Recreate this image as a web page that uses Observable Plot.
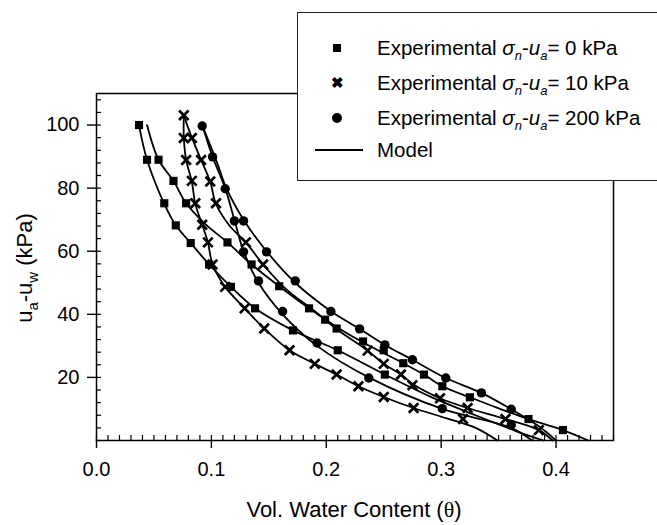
<!DOCTYPE html>
<html>
<head>
<meta charset="utf-8">
<script src="https://cdn.jsdelivr.net/npm/d3@7"></script>
<script src="https://cdn.jsdelivr.net/npm/@observablehq/plot@0.6"></script>
<style>
  html, body { margin: 0; padding: 0; background: white; }
  #wrap { position: relative; width: 657px; height: 525px; overflow: hidden; font-family: "Liberation Sans", Arial, sans-serif; }
  #legend { position: absolute; left: 297px; top: 12px; width: 420px; height: 169px; background: white; border: 1.2px solid #222; box-sizing: border-box; }
  .item { position: absolute; left: 0; height: 26px; font-size: 20.5px; line-height: 26px; white-space: nowrap; }
  .item span.t { position: absolute; left: 79px; top: 0; }
  .mk { position: absolute; }
  sub { font-size: 13px; vertical-align: -5px; line-height: 0; }
</style>
</head>
<body>
<div id="wrap"></div>
<script>
// ---- data ----
const sigma0Points = [[0.037,100],[0.044,89],[0.054,89],[0.067,82.3],[0.059,75.2],[0.078,75.2],[0.069,68.2],[0.082,62.6],[0.114,62.8],[0.098,55.8],[0.135,55.8],[0.117,48.7],[0.159,48.9],[0.138,41.9],[0.185,41.9],[0.199,38.3],[0.171,34.9],[0.209,35.5],[0.232,31.4],[0.210,28.6],[0.250,28.6],[0.267,24.5],[0.251,20.9],[0.285,20.9],[0.301,17.2],[0.325,13.7],[0.376,6.8],[0.406,3.3]];
const sigma10Points = [[0.076,103.1],[0.076,95.9],[0.083,95.9],[0.078,88.9],[0.091,88.9],[0.083,82.3],[0.099,82.1],[0.086,75.2],[0.104,75.2],[0.092,68.4],[0.097,62.8],[0.130,62.8],[0.101,55.8],[0.145,55.8],[0.112,48.7],[0.129,41.9],[0.146,35.5],[0.168,28.6],[0.236,28.5],[0.190,24.3],[0.250,24.3],[0.209,20.9],[0.265,20.9],[0.228,17.2],[0.275,17.5],[0.250,13.8],[0.299,13.4],[0.276,10.3],[0.323,10.3],[0.319,6.8],[0.356,6.8],[0.385,3.3]];
const sigma200Points = [[0.092,99.7],[0.101,89.9],[0.112,79.8],[0.120,69.6],[0.128,69.6],[0.128,59.8],[0.148,59.8],[0.141,50.6],[0.173,50.6],[0.162,40.9],[0.204,40.9],[0.229,35.4],[0.192,30.9],[0.251,30.3],[0.275,25.6],[0.237,19.8],[0.304,19.8],[0.335,15.1],[0.301,10.1],[0.361,9.9],[0.361,4.9]];

const modelSigma0A = [[0.037,100],[0.044,89],[0.059,75],[0.069,68.2],[0.082,62.6],[0.098,55.8],[0.117,48.7],[0.138,41.9],[0.171,34.9],[0.210,28.6],[0.251,20.9],[0.290,14],[0.330,8],[0.365,3],[0.389,0]];
const modelSigma0B = [[0.044,100],[0.054,89],[0.067,82.3],[0.078,75.2],[0.095,68.5],[0.114,62.8],[0.135,55.8],[0.159,48.9],[0.185,41.9],[0.209,36],[0.235,30.5],[0.267,24.5],[0.285,20.9],[0.301,17.2],[0.325,13.7],[0.350,10.2],[0.376,6.8],[0.406,3.3],[0.428,0]];
const modelSigma10A = [[0.076,103],[0.076,96],[0.078,89],[0.083,82],[0.086,75],[0.092,68.4],[0.097,62.8],[0.101,55.8],[0.112,48.7],[0.129,41.9],[0.146,35.5],[0.168,28.6],[0.190,24.3],[0.209,20.9],[0.228,17.2],[0.250,13.8],[0.276,10.3],[0.305,7],[0.330,4],[0.349,0]];
const modelSigma10B = [[0.076,103],[0.083,96],[0.091,89],[0.099,82],[0.104,75],[0.116,68],[0.130,62.8],[0.145,55.8],[0.165,48],[0.190,41],[0.210,35],[0.236,28.5],[0.250,24.3],[0.265,20.9],[0.277,17.5],[0.299,13.4],[0.323,10.3],[0.356,6.8],[0.385,3.3],[0.397,0]];
const modelSigma200A = [[0.092,100],[0.101,90],[0.112,80],[0.120,70],[0.128,60],[0.141,50],[0.162,40],[0.192,30],[0.237,20],[0.301,10],[0.361,4],[0.379,0]];
const modelSigma200B = [[0.092,100],[0.105,88],[0.113,80],[0.128,70],[0.148,60],[0.173,50],[0.204,41],[0.229,35.4],[0.251,30.3],[0.275,25.6],[0.304,19.8],[0.335,15.1],[0.361,9.9],[0.385,4.5],[0.400,0]];

const xMajorTicks = [0, 0.1, 0.2, 0.3, 0.4];
const xMinorTicks = d3.range(0, 46).map(i => i / 100);
const yMajorTicks = [20, 40, 60, 80, 100];
const yMinorTicks = d3.range(0, 28).map(i => i * 4);

const legendLabels = ["0 kPa", "10 kPa", "200 kPa"];

// ---- build tables ----
const toRows = (arr, key) => arr.map(([x, y]) => ({x, y, key}));
const curves = [
  ...toRows(modelSigma0A, "0A"), ...toRows(modelSigma0B, "0B"),
  ...toRows(modelSigma10A, "10A"), ...toRows(modelSigma10B, "10B"),
  ...toRows(modelSigma200A, "200A"), ...toRows(modelSigma200B, "200B")
];

const plot = Plot.plot({
  width: 657, height: 525,
  marginLeft: 96, marginRight: 44, marginTop: 93, marginBottom: 85,
  x: {domain: [0, 0.45]},
  y: {domain: [0, 110]},
  style: {fontFamily: "'Liberation Sans', Arial, sans-serif", fontSize: "20px", color: "black", background: "white", overflow: "visible"},
  marks: [
    Plot.axisX(xMinorTicks, {tickSize: -5, tickFormat: () => "", strokeWidth: 1.2, label: null}),
    Plot.axisX(xMajorTicks, {tickSize: 8, tickPadding: 13, tickFormat: d3.format(".1f"), strokeWidth: 1.4, label: null}),
    Plot.axisY(yMinorTicks, {tickSize: -5, tickFormat: () => "", strokeWidth: 1.2, label: null}),
    Plot.axisY(yMajorTicks, {tickSize: 9, tickPadding: 8, strokeWidth: 1.4, label: null}),
    Plot.frame({stroke: "black", strokeWidth: 1.5}),
    Plot.line(curves, {x: "x", y: "y", z: "key", stroke: "black", strokeWidth: 1.8, curve: "catmull-rom"}),
    Plot.dot(toRows(sigma0Points, "s0"), {x: "x", y: "y", symbol: "square", fill: "black", r: 4.6}),
    Plot.dot(toRows(sigma10Points, "s10"), {x: "x", y: "y", symbol: "times", stroke: "black", strokeWidth: 2.7, r: 4.4}),
    Plot.dot(toRows(sigma200Points, "s200"), {x: "x", y: "y", symbol: "circle", fill: "black", r: 4.7})
  ]
});

const wrap = document.getElementById("wrap");
wrap.appendChild(plot);

// axis titles
const svg = d3.select(plot);
const yt = svg.append("text")
  .attr("transform", "translate(32,268) rotate(-90)")
  .attr("text-anchor", "middle")
  .attr("font-size", 22)
  .attr("font-family", "'Liberation Sans', Arial, sans-serif")
  .attr("fill", "black");
yt.append("tspan").text("u");
yt.append("tspan").attr("font-size", 15).attr("dy", 6).text("a");
yt.append("tspan").attr("dy", -6).text("-u");
yt.append("tspan").attr("font-size", 15).attr("dy", 6).text("w");
yt.append("tspan").attr("dy", -6).text(" (kPa)");

const xt = svg.append("text")
  .attr("x", 354).attr("y", 517)
  .attr("text-anchor", "middle")
  .attr("font-size", 22)
  .attr("font-family", "'Liberation Sans', Arial, sans-serif")
  .attr("fill", "black");
xt.append("tspan").text("Vol. Water Content (");
xt.append("tspan").attr("font-family", "'Liberation Serif', 'DejaVu Serif', serif").text("θ");
xt.append("tspan").text(")");

// legend
const legend = document.createElement("div");
legend.id = "legend";
const rows = [
  {label: legendLabels[0], mk: '<div class="mk" style="left:35px;top:9px;width:8px;height:8px;background:#000"></div>'},
  {label: legendLabels[1], mk: '<div class="mk" style="left:33px;top:5px;font-size:15px;font-weight:bold;line-height:16px">&#x2716;</div>'},
  {label: legendLabels[2], mk: '<div class="mk" style="left:34px;top:8px;width:10px;height:10px;border-radius:50%;background:#000"></div>'}
];
rows.forEach((r, i) => {
  const d = document.createElement("div");
  d.className = "item";
  d.style.top = (22 + i * 35) + "px";
  d.style.width = "400px";
  d.innerHTML = r.mk + '<span class="t">Experimental <i>&sigma;<sub>n</sub></i>-<i>u<sub>a</sub></i>= ' + r.label + '</span>';
  legend.appendChild(d);
});
const m = document.createElement("div");
m.className = "item";
m.style.top = (22 + 3 * 34) + "px";
m.style.width = "400px";
m.innerHTML = '<div class="mk" style="left:17px;top:12px;width:48px;height:2px;background:#000"></div><span class="t">Model</span>';
legend.appendChild(m);
wrap.appendChild(legend);
</script>
</body>
</html>
